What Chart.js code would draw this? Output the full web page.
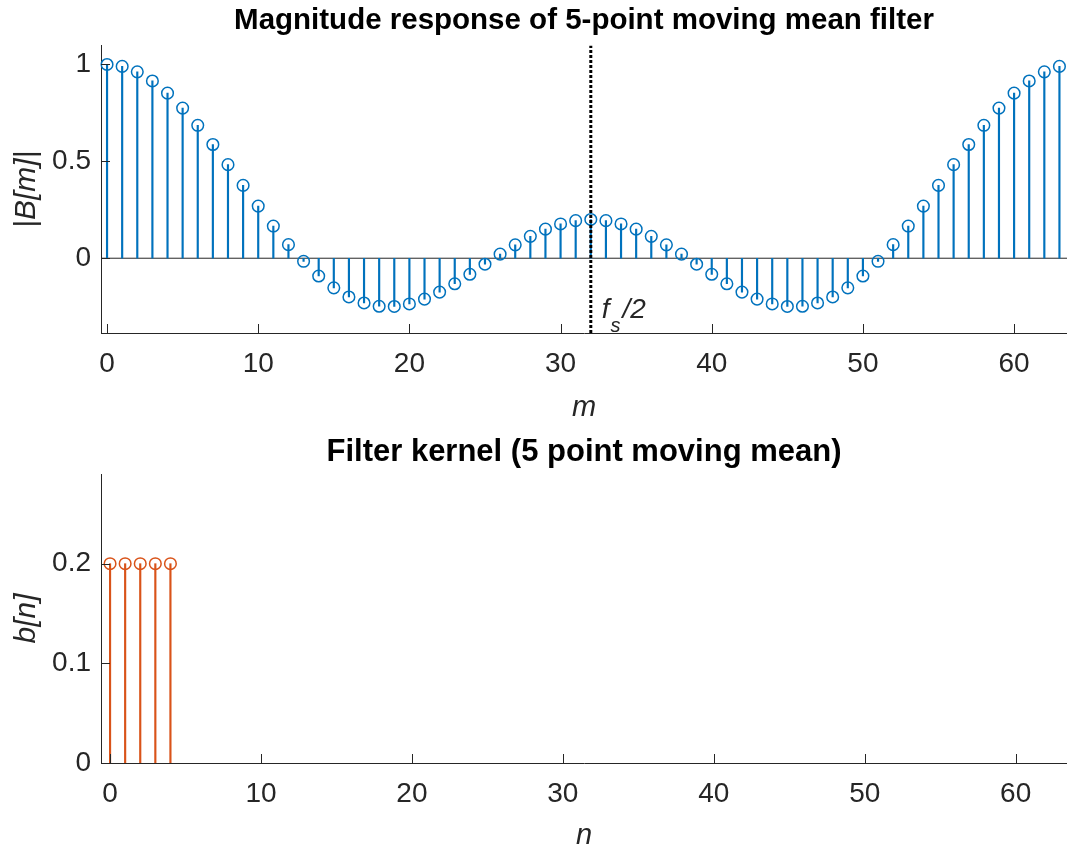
<!DOCTYPE html>
<html><head><meta charset="utf-8">
<script src="https://cdn.jsdelivr.net/npm/chart.js@4/dist/chart.umd.min.js"></script>
<style>
html,body{margin:0;padding:0;background:#fff;}
#wrap{position:relative;width:1067px;height:852px;overflow:hidden;}
canvas{position:absolute;left:0;}
</style></head><body>
<div id="wrap">
<canvas id="c1" width="1067" height="426" style="top:0"></canvas>
<canvas id="c2" width="1067" height="426" style="top:426px"></canvas>
</div>
<script>
// ---- data ----
const mIndex = [0,1,2,3,4,5,6,7,8,9,10,11,12,13,14,15,16,17,18,19,20,21,22,23,24,25,26,27,28,29,30,31,
                32,33,34,35,36,37,38,39,40,41,42,43,44,45,46,47,48,49,50,51,52,53,54,55,56,57,58,59,60,61,62,63];
const magnitude = [1.000,0.990,0.962,0.915,0.852,0.775,0.686,0.587,0.483,0.376,0.269,0.166,0.070,-0.016,-0.092,-0.153,
                   -0.200,-0.231,-0.248,-0.249,-0.236,-0.211,-0.175,-0.132,-0.083,-0.031,0.021,0.069,0.113,0.150,0.177,0.194,
                   0.200,0.194,0.177,0.150,0.113,0.069,0.021,-0.031,-0.083,-0.132,-0.175,-0.211,-0.236,-0.249,-0.248,-0.231,
                   -0.200,-0.153,-0.092,-0.016,0.070,0.166,0.269,0.376,0.483,0.587,0.686,0.775,0.852,0.915,0.962,0.990];
const nIndex = [0,1,2,3,4];
const kernel = [0.2,0.2,0.2,0.2,0.2];
const halfFs = 32;
const xTickValues = [0,10,20,30,40,50,60];
const yTickTop = [0,0.5,1];
const yTickBottom = [0,0.1,0.2];
const titleTop = 'Magnitude response of 5-point moving mean filter';
const titleBottom = 'Filter kernel (5 point moving mean)';
const xLabelTop = 'm', yLabelTop = '|B[m]|';
const xLabelBottom = 'n', yLabelBottom = 'b[n]';

// ---- styling ----
const FONT = "'Liberation Sans', Arial, Helvetica, sans-serif";
const AX = '#262626';
const BLUE = '#0072BD', ORANGE = '#D95319';

const inwardTicks = {
  id: 'inwardTicks',
  afterDatasetsDraw(chart) {
    const {ctx, chartArea:{left,bottom}, scales:{x,y}} = chart;
    ctx.save(); ctx.strokeStyle = AX; ctx.lineWidth = 1; ctx.beginPath();
    x.ticks.forEach(t => { const p = Math.round(x.getPixelForValue(t.value)) + 0.5; ctx.moveTo(p,bottom); ctx.lineTo(p,bottom-9); });
    y.ticks.forEach(t => { const p = Math.round(y.getPixelForValue(t.value)) + 0.5; ctx.moveTo(left,p); ctx.lineTo(left+9,p); });
    ctx.stroke(); ctx.restore();
  }
};

const fsLabel = {
  id: 'fsLabel',
  afterDatasetsDraw(chart) {
    if (!chart.options.plugins.fsLabel || !chart.options.plugins.fsLabel.show) return;
    const {ctx, scales:{x,y}} = chart;
    const px = x.getPixelForValue(halfFs) + 11;
    const py = y.getPixelForValue(y.min) - 15;
    ctx.save(); ctx.fillStyle = AX; ctx.textBaseline = 'alphabetic'; ctx.textAlign = 'left';
    ctx.font = 'italic 28px ' + FONT; ctx.fillText('f', px, py);
    const w = ctx.measureText('f').width;
    ctx.font = 'italic 20px ' + FONT; ctx.fillText('s', px + w + 1, py + 14);
    const ws = ctx.measureText('s').width;
    ctx.font = 'italic 28px ' + FONT; ctx.fillText('/2', px + w + ws + 3, py);
    ctx.restore();
  }
};

function makeChart(id, cfg) {
  const pts = cfg.xs.map((v,i) => ({x:v, y:cfg.ys[i]}));
  const datasets = [
    { type:'line', data: pts, showLine:false, pointStyle:'circle', pointRadius:5.8, pointBorderWidth:1.5,
      pointBorderColor: cfg.color, pointBackgroundColor:'rgba(0,0,0,0)', clip:false, order:1 },
    { type:'bar', data: pts, backgroundColor: cfg.color, barThickness:1.5, borderWidth:0, grouped:false, order:2 }
  ];
  if (cfg.zeroLine) datasets.push({ type:'line', data:[{x:cfg.xMin,y:0},{x:cfg.xMax,y:0}], borderColor:AX, borderWidth:1,
      pointRadius:0, order:3 });
  if (cfg.vline !== undefined) datasets.push({ type:'line', data:[{x:cfg.vline,y:cfg.yMin},{x:cfg.vline,y:cfg.yMax}],
      borderColor:'#000', borderWidth:3, borderDash:[3,2], borderCapStyle:'butt', pointRadius:0, order:0 });
  return new Chart(document.getElementById(id), {
    type:'bar',
    data:{ datasets },
    options:{
      responsive:false, animation:false, events:[],
      layout:{ padding:0, autoPadding:false },
      plugins:{
        legend:{display:false}, tooltip:{enabled:false},
        title:{ display:true, fullSize:false, text: cfg.title, color:'#000', font:{family:FONT, size:cfg.titleSize, weight:'bold', lineHeight:1},
                padding:{top:cfg.titleTop, bottom:cfg.titleBottom} },
        fsLabel:{ show: !!cfg.fs }
      },
      scales:{
        x:{ type:'linear', min:cfg.xMin, max:cfg.xMax, offset:false,
            afterBuildTicks: s => { s.ticks = xTickValues.map(v => ({value:v})); },
            afterFit: s => { s.height = cfg.xAxisH; s.paddingLeft = 0; s.paddingRight = 0; },
            grid:{display:false, drawTicks:false},
            border:{display:true, color:AX, width:1},
            ticks:{ color:AX, font:{family:FONT, size:28}, padding:14, maxRotation:0, autoSkip:false,
                    callback: v => String(v) },
            title:{ display:true, text:cfg.xLabel, color:AX, font:{family:FONT, size:29, style:'italic', lineHeight:1},
                    padding:{top:0, bottom:cfg.xTitlePad} } },
        y:{ type:'linear', min:cfg.yMin, max:cfg.yMax,
            afterBuildTicks: s => { s.ticks = cfg.yTicks.map(v => ({value:v})); },
            afterFit: s => { s.width = 101; s.paddingTop = 0; s.paddingBottom = 0; },
            grid:{display:false, drawTicks:false},
            border:{display:true, color:AX, width:1},
            ticks:{ color:AX, font:{family:FONT, size:28}, padding:10, callback: v => String(v) },
            title:{ display:true, text:cfg.yLabel, color:AX, font:{family:FONT, size:30, style:'italic', lineHeight:1},
                    padding:{top:cfg.yTitlePad, bottom:0} } }
      }
    },
    plugins:[inwardTicks, fsLabel]
  });
}

makeChart('c1', { xs:mIndex, ys:magnitude, color:BLUE, title:titleTop, xLabel:xLabelTop, yLabel:yLabelTop,
  xMin:-0.4, xMax:63.5, yMin:-0.386, yMax:1.098, yTicks:yTickTop, zeroLine:true, vline:halfFs, fs:true,
  titleSize:29.5, titleTop:6, titleBottom:10, xAxisH:93, xTitlePad:4, yTitlePad:12 });
makeChart('c2', { xs:nIndex, ys:kernel, color:ORANGE, title:titleBottom, xLabel:xLabelBottom, yLabel:yLabelBottom,
  xMin:-0.6, xMax:63.4, yMin:0, yMax:0.29, yTicks:yTickBottom, zeroLine:false,
  titleSize:31, titleTop:10.5, titleBottom:6.5, xAxisH:89, xTitlePad:2, yTitlePad:12 });
</script>
</body></html>
